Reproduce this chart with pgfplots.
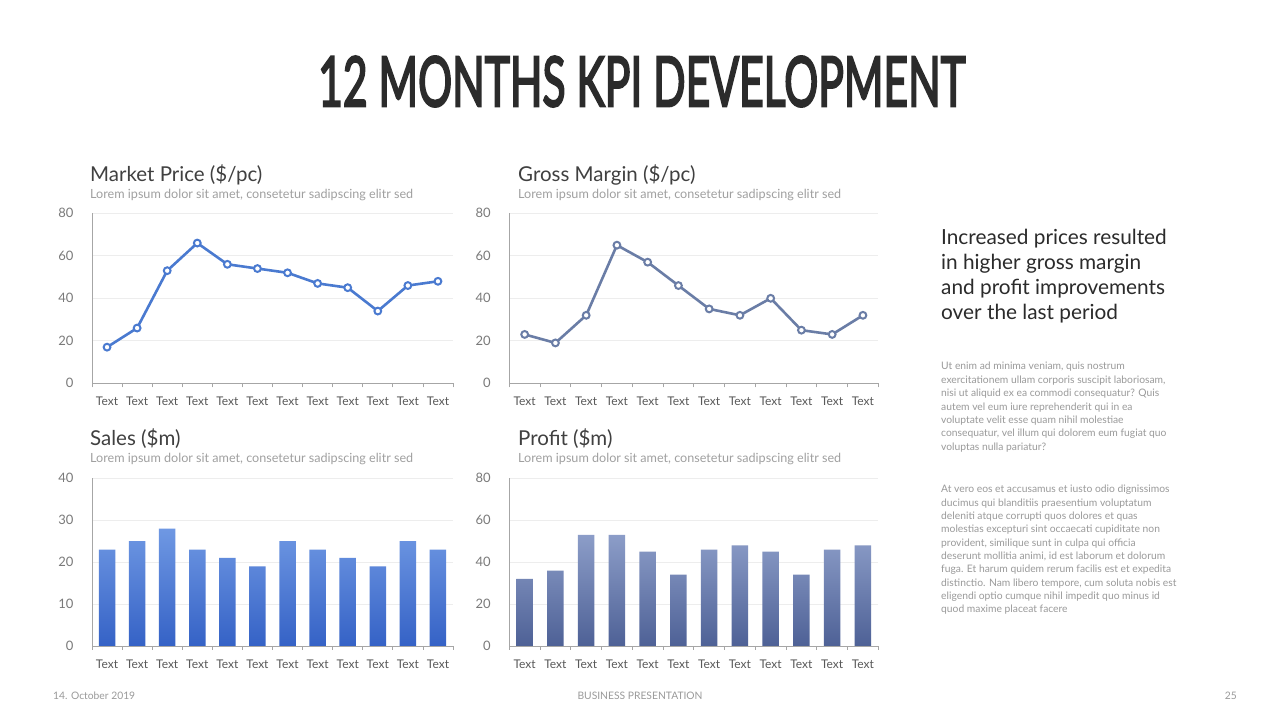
\documentclass[border=0pt]{standalone}
\usepackage{graphicx}
\usepackage{fontspec}
\setmainfont{Lato}
\newfontfamily\titlefont[FakeBold=3.5]{Lato}
\usepackage{pgfplots}
\usepackage{pgfplotstable}
\pgfplotsset{compat=1.18}
\definecolor{mpblue}{HTML}{4A7AD0}
\definecolor{gmslate}{HTML}{6A7DA6}
\definecolor{salesT}{HTML}{6F98E3}
\definecolor{salesB}{HTML}{3562C6}
\definecolor{profT}{HTML}{8C9DC8}
\definecolor{profB}{HTML}{4E6196}
\definecolor{gridgray}{HTML}{EDEDED}
\definecolor{axisgray}{HTML}{A6A6A6}
\definecolor{labelgray}{HTML}{595959}
\definecolor{titlegray}{HTML}{404040}
\definecolor{subgray}{HTML}{A0A0A0}
\definecolor{bodygray}{HTML}{9A9A9A}
\definecolor{headdark}{HTML}{2B2B2B}

\pgfplotstableread{
x mp gm sales profit
0 17 23 23 32
1 26 19 25 36
2 53 32 28 53
3 66 65 23 53
4 56 57 21 45
5 54 46 19 34
6 52 35 25 46
7 47 32 23 48
8 45 40 21 45
9 34 25 19 34
10 46 23 25 46
11 48 32 23 48
}\kpidata

\pgfplotsset{
  kpi/.style={
    anchor=south west, scale only axis,
    xmin=-0.5, xmax=11.5, ymin=0,
    xtick={0,...,11},
    xticklabels={Text,Text,Text,Text,Text,Text,Text,Text,Text,Text,Text,Text},
    minor xtick={-0.5,0.5,...,11.5},
    axis lines=left,
    axis line style={-, draw=axisgray, line width=0.8pt},
    ymajorgrids, grid style={draw=gridgray, line width=0.7pt},
    major tick length=0pt, minor tick length=4pt, tick align=outside,
    minor x tick style={draw=axisgray, line width=0.7pt},
    major tick style={draw=none},
    /pgf/number format/assume math mode=true,
    tick label style={font=\fontsize{12}{12}\selectfont, text=labelgray},
    yticklabel style={font=\fontsize{13}{13}\selectfont, text=labelgray!80, xshift=-15pt},
    xticklabel style={yshift=-10pt},
    clip=false,
  },
}

\begin{document}
\begin{tikzpicture}
\fill[white] (0pt,0pt) rectangle (1280pt,720pt);

% main title
\node[anchor=south west, inner sep=0, text=headdark] at (318pt,613pt) {\resizebox{647pt}{50pt}{\titlefont 12 MONTHS KPI DEVELOPMENT}};

% chart titles
\node[anchor=base west, inner sep=0, text=titlegray, font=\fontsize{20.5}{20.5}\selectfont] at (90pt,538pt) {Market Price (\$/pc)};
\node[anchor=base west, inner sep=0, text=subgray, font=\fontsize{12.6}{12.6}\selectfont] at (90pt,521.5pt) {Lorem ipsum dolor sit amet, consetetur sadipscing elitr sed};
\node[anchor=base west, inner sep=0, text=titlegray, font=\fontsize{20.5}{20.5}\selectfont] at (518pt,538pt) {Gross Margin (\$/pc)};
\node[anchor=base west, inner sep=0, text=subgray, font=\fontsize{12.6}{12.6}\selectfont] at (518pt,521.5pt) {Lorem ipsum dolor sit amet, consetetur sadipscing elitr sed};
\node[anchor=base west, inner sep=0, text=titlegray, font=\fontsize{20.5}{20.5}\selectfont] at (90pt,274pt) {Sales (\$m)};
\node[anchor=base west, inner sep=0, text=subgray, font=\fontsize{12.6}{12.6}\selectfont] at (90pt,257pt) {Lorem ipsum dolor sit amet, consetetur sadipscing elitr sed};
\node[anchor=base west, inner sep=0, text=titlegray, font=\fontsize{20.5}{20.5}\selectfont] at (518pt,274pt) {Profit (\$m)};
\node[anchor=base west, inner sep=0, text=subgray, font=\fontsize{12.6}{12.6}\selectfont] at (518pt,257pt) {Lorem ipsum dolor sit amet, consetetur sadipscing elitr sed};

% Market Price
\begin{axis}[kpi, at={(92pt,336.7pt)}, width=361pt, height=170pt, ymax=80, ytick={0,20,...,80}]
\addplot[mpblue, line width=2.6pt, mark=*, mark size=3.4pt, mark options={fill=white, draw=mpblue, line width=2pt}] table[x=x, y=mp] {\kpidata};
\end{axis}

% Gross Margin
\begin{axis}[kpi, at={(509.3pt,336.7pt)}, width=369pt, height=170pt, ymax=80, ytick={0,20,...,80}]
\addplot[gmslate, line width=2.6pt, mark=*, mark size=3.4pt, mark options={fill=white, draw=gmslate, line width=2pt}] table[x=x, y=gm] {\kpidata};
\end{axis}

% Sales
\begin{axis}[kpi, at={(92pt,74pt)}, width=361pt, height=167.7pt, ymax=40, ytick={0,10,...,40}]
\addplot[ybar, bar width=16.5pt, draw=none, top color=salesT, bottom color=salesB] table[x=x, y=sales] {\kpidata};
\end{axis}

% Profit
\begin{axis}[kpi, at={(509.3pt,74pt)}, width=369pt, height=167.7pt, ymax=80, ytick={0,20,...,80}]
\addplot[ybar, bar width=16.5pt, draw=none, top color=profT, bottom color=profB] table[x=x, y=profit] {\kpidata};
\end{axis}

% right heading
\begin{scope}[every node/.style={anchor=base west, inner sep=0, text=headdark, font=\fontsize{20.8}{20.8}\selectfont}]
\node at (941pt,475pt) {Increased prices resulted};
\node at (941pt,450pt) {in higher gross margin};
\node at (941pt,425pt) {and profit improvements};
\node at (941pt,400pt) {over the last period};
\end{scope}

\begin{scope}[every node/.style={anchor=base west, inner sep=0, text=bodygray, font=\fontsize{10.3}{10.3}\selectfont}]
\node at (941pt,350pt) {Ut enim ad minima veniam, quis nostrum};
\node at (941pt,336.6pt) {exercitationem ullam corporis suscipit laboriosam,};
\node at (941pt,323.2pt) {nisi ut aliquid ex ea commodi consequatur? Quis};
\node at (941pt,309.8pt) {autem vel eum iure reprehenderit qui in ea};
\node at (941pt,296.4pt) {voluptate velit esse quam nihil molestiae};
\node at (941pt,283.0pt) {consequatur, vel illum qui dolorem eum fugiat quo};
\node at (941pt,269.6pt) {voluptas nulla pariatur?};

\node at (941pt,227pt) {At vero eos et accusamus et iusto odio dignissimos};
\node at (941pt,213.7pt) {ducimus qui blanditiis praesentium voluptatum};
\node at (941pt,200.4pt) {deleniti atque corrupti quos dolores et quas};
\node at (941pt,187.1pt) {molestias excepturi sint occaecati cupiditate non};
\node at (941pt,173.8pt) {provident, similique sunt in culpa qui officia};
\node at (941pt,160.5pt) {deserunt mollitia animi, id est laborum et dolorum};
\node at (941pt,147.2pt) {fuga. Et harum quidem rerum facilis est et expedita};
\node at (941pt,133.9pt) {distinctio. Nam libero tempore, cum soluta nobis est};
\node at (941pt,120.6pt) {eligendi optio cumque nihil impedit quo minus id};
\node at (941pt,107.3pt) {quod maxime placeat facere};
\end{scope}

% footer
\begin{scope}[every node/.style={inner sep=0, text=bodygray, font=\fontsize{10.3}{10.3}\selectfont}]
\node[anchor=base west] at (53pt,20pt) {14. October 2019};
\node[anchor=base] at (640pt,20pt) {BUSINESS PRESENTATION};
\node[anchor=base east] at (1237pt,20pt) {25};
\end{scope}
\end{tikzpicture}
\end{document}
